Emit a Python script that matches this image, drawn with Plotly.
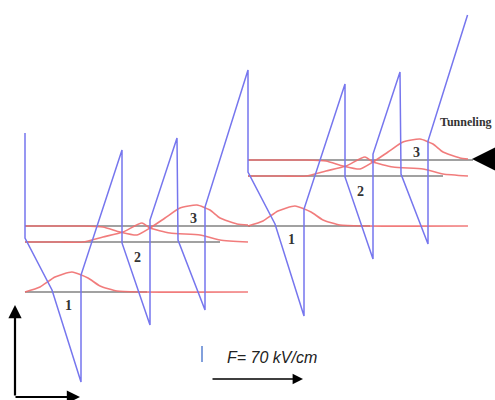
import plotly.graph_objects as go

# Conduction-band profile of one cascade period (position, energy), arbitrary units
band_x = [25, 25, 52, 81, 81, 122, 122, 150, 150, 177, 178, 205, 205, 248]
band_e = [267, 162, 110, 18, 125, 250, 157, 75, 180, 262, 160, 90, 193, 330]

# Applied field shifts each following period by one period length and one voltage drop
period_dx = 223
period_de = 66
n_periods = 2
band_top_limit = 385  # injector ramp of the last period is cut here

# Subband levels of one period (energy) and span of the grey reference lines
level_e = {"1": 108, "2": 158, "3": 174}
level_gray_end = {"1": 147, "2": 220, "3": 250}
level_start = 25

# Sampled moduli squared of the wavefunctions (position, energy)
psi1_x = [25, 40, 55, 72, 88, 100, 117, 140, 248]
psi1_e = [108, 113, 123, 128, 122, 114, 109, 108, 108]
psi2_x = [25, 60, 83, 103, 123, 142, 150, 170, 200, 220, 248]
psi2_e = [158, 158, 158, 163, 168, 177, 172, 167, 165, 160, 158]
psi3_x = [25, 60, 83, 103, 120, 137, 150, 165, 180, 197, 210, 220, 237, 248]
psi3_e = [174, 174, 174, 173, 168, 165, 172, 182, 192, 195, 190, 182, 176, 175]

# Positions of the state labels within one period
label_text = ["1", "2", "3"]
label_x = [68, 137, 193]
label_e = [95, 143, 182]

BLUE = "rgb(118,118,238)"
RED = "rgba(240,110,110,0.9)"
GRAY = "rgb(130,130,130)"

fig = go.Figure()

# grey subband reference lines
for p in range(n_periods):
    dx, de = p * period_dx, p * period_de
    for k, e in level_e.items():
        gx_end = level_gray_end[k] + dx
        fig.add_trace(go.Scatter(x=[level_start + dx, gx_end], y=[e + de, e + de],
                                 mode="lines", line=dict(color=GRAY, width=1.6),
                                 hoverinfo="skip", showlegend=False))

# wavefunctions
for p in range(n_periods):
    dx, de = p * period_dx, p * period_de
    last = p == n_periods - 1
    for xs, es in ((psi1_x, psi1_e), (psi2_x, psi2_e), (psi3_x, psi3_e)):
        px = [v + dx for v in xs]
        pe = [v + de for v in es]
        if last:
            px[-1] = px[-1] - 3
        fig.add_trace(go.Scatter(x=px, y=pe, mode="lines",
                                 line=dict(color=RED, width=1.6, shape="spline", smoothing=0.55),
                                 hoverinfo="skip", showlegend=False))

# conduction band, periods joined into one polyline
bx, be = [], []
for p in range(n_periods):
    dx, de = p * period_dx, p * period_de
    xs = [v + dx for v in band_x]
    es = [v + de for v in band_e]
    if p > 0:
        xs, es = xs[1:], es[1:]
    bx += xs
    be += es
# clip the final ramp at the top limit
x0, e0, x1, e1 = bx[-2], be[-2], bx[-1], be[-1]
if e1 > band_top_limit:
    bx[-1] = x0 + (band_top_limit - e0) * (x1 - x0) / (e1 - e0)
    be[-1] = band_top_limit
fig.add_trace(go.Scatter(x=bx, y=be, mode="lines",
                         line=dict(color=BLUE, width=1.5),
                         hoverinfo="skip", showlegend=False))

annotations = []
for p in range(n_periods):
    dx, de = p * period_dx, p * period_de
    for t, lx, le in zip(label_text, label_x, label_e):
        annotations.append(dict(x=lx + dx, y=le + de, text=f"<b>{t}</b>", showarrow=False,
                                font=dict(family="Liberation Serif", size=14, color="#333333"),
                                xref="x", yref="y"))

annotations += [
    dict(x=494, y=278, text="<b>Tunneling</b>", showarrow=False, xanchor="right",
         font=dict(family="Liberation Serif", size=12, color="#333333"), xref="x", yref="y"),
    dict(x=472, y=241, ax=497, ay=241, xref="x", yref="y", axref="x", ayref="y",
         text="", showarrow=True, arrowhead=2, arrowsize=1.25, arrowwidth=4, arrowcolor="black"),
    dict(x=225, y=43, text="<i>F= 70 kV/cm</i>", showarrow=False, xanchor="left",
         font=dict(family="Liberation Sans", size=16, color="#222222"), xref="x", yref="y"),
    dict(x=303, y=21, ax=211, ay=21, xref="x", yref="y", axref="x", ayref="y",
         text="", showarrow=True, arrowhead=2, arrowsize=1.3, arrowwidth=1.6, arrowcolor="black"),
    dict(x=15, y=95, ax=15, ay=3, xref="x", yref="y", axref="x", ayref="y",
         text="", showarrow=True, arrowhead=2, arrowsize=1.2, arrowwidth=2.2, arrowcolor="black"),
    dict(x=80, y=3, ax=14, ay=3, xref="x", yref="y", axref="x", ayref="y",
         text="", showarrow=True, arrowhead=2, arrowsize=1.2, arrowwidth=2.2, arrowcolor="black"),
]

fig.add_shape(type="line", x0=202, x1=202, y0=38, y1=54, xref="x", yref="y",
              line=dict(color="rgb(130,160,220)", width=2))

fig.update_layout(
    width=495, height=400,
    margin=dict(l=0, r=0, t=0, b=0),
    paper_bgcolor="white", plot_bgcolor="white",
    xaxis=dict(range=[0, 495], visible=False, fixedrange=True),
    yaxis=dict(range=[0, 400], visible=False, fixedrange=True),
    annotations=annotations,
    showlegend=False,
)

fig.write_html("out.html")
